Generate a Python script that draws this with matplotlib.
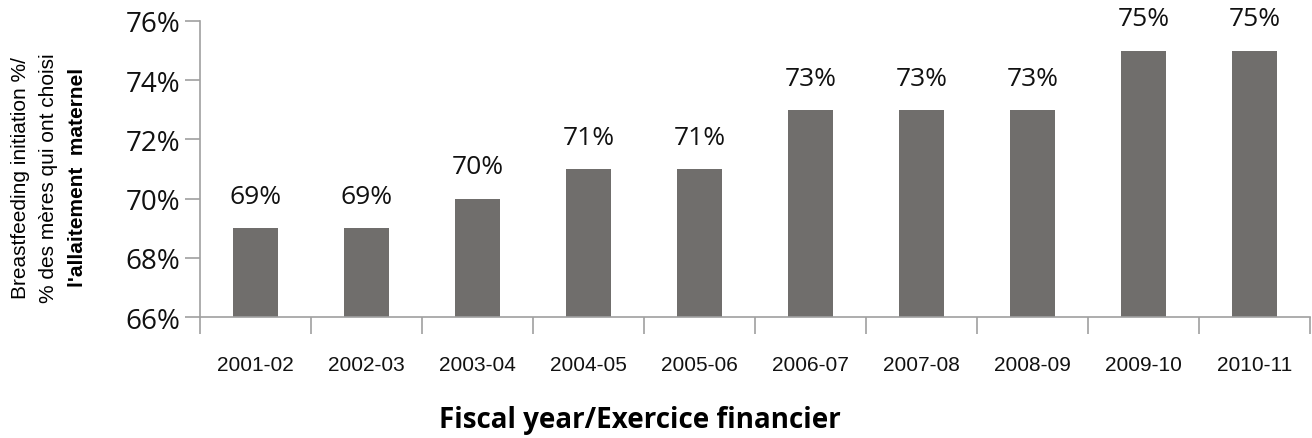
import matplotlib
matplotlib.use("Agg")
import matplotlib.pyplot as plt
import numpy as np

# ------------------------------------------------------
# Data
# ------------------------------------------------------
years = ["2001-02", "2002-03", "2003-04", "2004-05", "2005-06",
         "2006-07", "2007-08", "2008-09", "2009-10", "2010-11"]
initiation = [69, 69, 70, 71, 71, 73, 73, 73, 75, 75]
y_ticks = [66, 68, 70, 72, 74, 76]

BAR_COLOR = "#706e6c"
AXIS_COLOR = "#a0a0a0"
narrow = ["Liberation Sans", "DejaVu Sans"]

fig = plt.figure(figsize=(13.12, 4.39), dpi=100)
ax = fig.add_axes([0.1524, 0.2756, 0.8461, 0.6744])

x = np.arange(len(years))
ax.bar(x, [v - 66 for v in initiation], bottom=66, width=0.4,
       color=BAR_COLOR)

for xi, v in zip(x, initiation):
    ax.text(xi, v + 0.65, f"{v}%", ha="center", va="bottom",
            fontsize=19, family="Open Sans", color="#111111")

ax.set_xlim(-0.5, len(years) - 0.5)
ax.set_ylim(66, 76)
ax.set_yticks(y_ticks)
ax.set_yticklabels([f"{t}%" for t in y_ticks], fontsize=20,
                   family="Open Sans", color="#111111")

ax.set_xticks(x)
ax.set_xticklabels(years, family=narrow, fontsize=15, color="#111111")
ax.set_xticks(np.arange(-0.5, len(years)), minor=True)
ax.tick_params(axis="x", which="major", length=0, pad=27)
ax.tick_params(axis="x", which="minor", length=12, width=1.2,
               color=AXIS_COLOR, direction="out")
ax.tick_params(axis="y", length=11, width=1.2, color=AXIS_COLOR,
               direction="out", pad=3)

for side in ["top", "right"]:
    ax.spines[side].set_visible(False)
for side in ["left", "bottom"]:
    ax.spines[side].set_color(AXIS_COLOR)
    ax.spines[side].set_linewidth(1.2)

# y label, three rotated lines, last one bold
fig.text(0.016, 0.595, "Breastfeeding initiation %/", rotation=90,
         ha="center", va="center", family=narrow, fontsize=15)
fig.text(0.037, 0.595, "% des mères qui ont choisi", rotation=90,
         ha="center", va="center", family=narrow, fontsize=15)
fig.text(0.059, 0.595, "l'allaitement  maternel", rotation=90,
         ha="center", va="center", family=narrow, fontsize=15,
         fontweight="bold")

fig.text(0.488, 0.043, "Fiscal year/Exercice financier", ha="center",
         va="center", family="Open Sans", fontsize=20, fontweight="bold")

fig.savefig("out.png", dpi=100)
